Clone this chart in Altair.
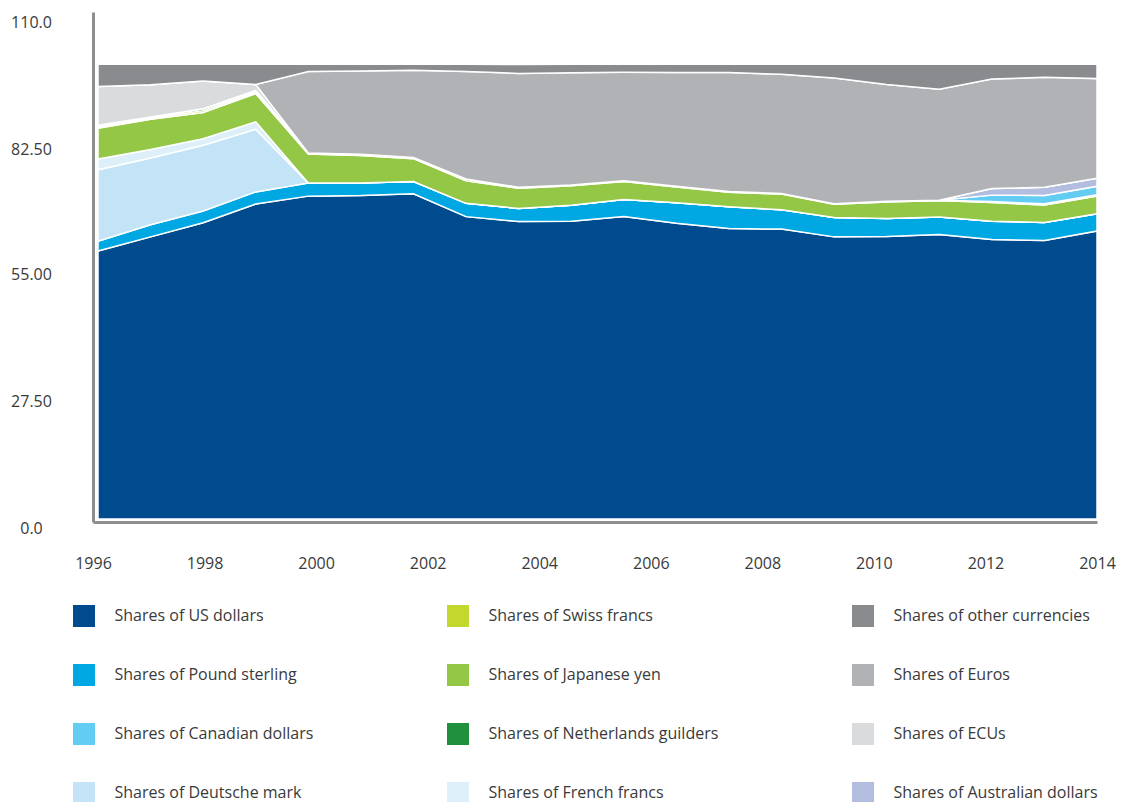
import altair as alt
import pandas as pd

years = list(range(1995, 2015))

us_dollars = [58.96, 62.05, 65.15, 69.28, 71.01, 71.13, 71.51, 66.50, 65.45, 65.51,
              66.51, 65.04, 63.87, 63.77, 62.05, 62.14, 62.59, 61.47, 61.24, 63.33]
pound_sterling = [2.11, 2.68, 2.58, 2.66, 2.89, 2.75, 2.70, 2.92, 2.86, 3.49,
                  3.75, 4.52, 4.82, 4.22, 4.25, 3.93, 3.83, 4.04, 3.98, 3.79]
deutsche_mark = [15.75, 14.67, 14.47, 13.77, 0, 0, 0, 0, 0, 0,
                 0, 0, 0, 0, 0, 0, 0, 0, 0, 0]
french_francs = [2.35, 1.84, 1.43, 1.63, 0, 0, 0, 0, 0, 0,
                 0, 0, 0, 0, 0, 0, 0, 0, 0, 0]
japanese_yen = [6.77, 6.70, 5.77, 6.24, 6.37, 6.06, 5.04, 4.94, 4.42, 4.28,
                3.96, 3.46, 3.18, 3.47, 2.90, 3.66, 3.61, 4.09, 3.82, 3.90]
swiss_francs = [0.33, 0.24, 0.41, 0.33, 0.23, 0.27, 0.25, 0.41, 0.23, 0.17,
                0.15, 0.17, 0.16, 0.14, 0.12, 0.13, 0.08, 0.21, 0.27, 0.27]
netherlands_guilders = [0.32, 0.24, 0.41, 0.34, 0, 0, 0, 0, 0, 0,
                        0, 0, 0, 0, 0, 0, 0, 0, 0, 0]
canadian_dollars = [0, 0, 0, 0, 0, 0, 0, 0, 0, 0,
                    0, 0, 0, 0, 0, 0, 0, 1.42, 1.83, 1.88]
australian_dollars = [0, 0, 0, 0, 0, 0, 0, 0, 0, 0,
                      0, 0, 0, 0, 0, 0, 0, 1.46, 1.82, 1.78]
ecus = [8.53, 7.08, 6.10, 1.30, 0, 0, 0, 0, 0, 0,
        0, 0, 0, 0, 0, 0, 0, 0, 0, 0]
euros = [0, 0, 0, 0, 17.90, 18.29, 19.18, 23.65, 25.03, 24.68,
         23.89, 24.99, 26.14, 26.21, 27.66, 25.71, 24.40, 24.05, 24.20, 21.90]
other_currencies = [4.87, 4.50, 3.69, 4.46, 1.60, 1.49, 1.31, 1.58, 1.97, 1.87,
                    1.74, 1.82, 1.83, 2.20, 3.02, 4.43, 5.49, 3.26, 2.84, 3.15]

# stacking order, bottom to top
stack_series = [
    ("Shares of US dollars", us_dollars),
    ("Shares of Pound sterling", pound_sterling),
    ("Shares of Deutsche mark", deutsche_mark),
    ("Shares of French francs", french_francs),
    ("Shares of Japanese yen", japanese_yen),
    ("Shares of Swiss francs", swiss_francs),
    ("Shares of Netherlands guilders", netherlands_guilders),
    ("Shares of Canadian dollars", canadian_dollars),
    ("Shares of Australian dollars", australian_dollars),
    ("Shares of ECUs", ecus),
    ("Shares of Euros", euros),
    ("Shares of other currencies", other_currencies),
]

# legend order (column by column, 3 columns of 4) and colours
legend_names = [
    "Shares of US dollars", "Shares of Pound sterling", "Shares of Canadian dollars", "Shares of Deutsche mark",
    "Shares of Swiss francs", "Shares of Japanese yen", "Shares of Netherlands guilders", "Shares of French francs",
    "Shares of other currencies", "Shares of Euros", "Shares of ECUs", "Shares of Australian dollars",
]
legend_colors = [
    "#004B8D", "#00A8E3", "#62CCF2", "#C3E4F6",
    "#C3D72F", "#95C747", "#208F3E", "#DDF0F9",
    "#8A8B8F", "#B1B2B6", "#DADBDD", "#B3BDE0",
]

x_tick_labels = ["1996", "1998", "2000", "2002", "2004", "2006", "2008", "2010", "2012", "2014"]
y_tick_labels = ["0.0", "27.50", "55.00", "82.50", "110.0"]
# positions of the y labels as drawn in the original (slightly spread vs. the data scale)
y_label_positions = [-0.43, 27.5, 55.43, 83.13, 111.06]

rows = []
for order_idx, (name, vals) in enumerate(stack_series):
    for yr, v in zip(years, vals):
        rows.append({"year": yr, "share": v, "series": name, "stack": order_idx})
df = pd.DataFrame(rows)

FONT = "Open Sans"
TXT = "#3a3a3a"
AXIS_GRAY = "#8E8E91"

x_lo = 1994.905
x_hi = 2014
x_step = (x_hi - x_lo) / (len(x_tick_labels) - 1)
x_values = [x_lo + k * x_step for k in range(len(x_tick_labels))]
x_label_expr = "[" + ",".join("'" + s + "'" for s in x_tick_labels) + f"][round((datum.value - {x_lo}) / {x_step})]"
y_label_expr = "[" + ",".join("'" + s + "'" for s in y_tick_labels) + "][abs(round(datum.value / 27.5))]"

chart = alt.Chart(df).mark_area(
    stroke="white", strokeWidth=1.5, interpolate="linear", opacity=1
).encode(
    x=alt.X(
        "year:Q",
        scale=alt.Scale(domain=[x_lo, x_hi], nice=False, zero=False),
        axis=alt.Axis(
            values=x_values, labelExpr=x_label_expr, title=None, grid=False,
            ticks=False, tickSize=0, domainColor=AXIS_GRAY, domainWidth=3,
            labelFont=FONT, labelFontSize=16, labelColor=TXT, labelPadding=33,
            labelAlign="center", labelFlush=False, labelOverlap=False,
        ),
    ),
    y=alt.Y(
        "share:Q",
        stack="zero",
        scale=alt.Scale(domain=[-0.65, 111.5], nice=False, zero=False),
        axis=alt.Axis(
            values=y_label_positions, labelExpr=y_label_expr, title=None, grid=False,
            ticks=False, tickSize=0, domainColor=AXIS_GRAY, domainWidth=3,
            labelFont=FONT, labelFontSize=16, labelColor=TXT, labelPadding=62,
            labelAlign="center", labelOffset=8, labelFlush=False, labelOverlap=False,
        ),
    ),
    color=alt.Color(
        "series:N",
        scale=alt.Scale(domain=legend_names, range=legend_colors),
        legend=alt.Legend(
            title=None, orient="none", legendX=-20, legendY=593, columns=3,
            symbolType="square", symbolSize=484, symbolStrokeWidth=0, symbolOpacity=1,
            labelFont=FONT, labelFontSize=16, labelColor=TXT, labelOffset=19.5,
            labelLimit=0, columnPadding=133, rowPadding=37, padding=0,
        ),
    ),
    order=alt.Order("stack:Q", sort="ascending"),
).properties(
    width=1004,
    height=510,
    autosize=alt.AutoSizeParams(type="none"),
    padding={"left": 85, "top": 4, "right": 30, "bottom": 280},
).configure_view(stroke=None)

chart.save("out.html", embed_options={"renderer": "svg", "actions": False})
